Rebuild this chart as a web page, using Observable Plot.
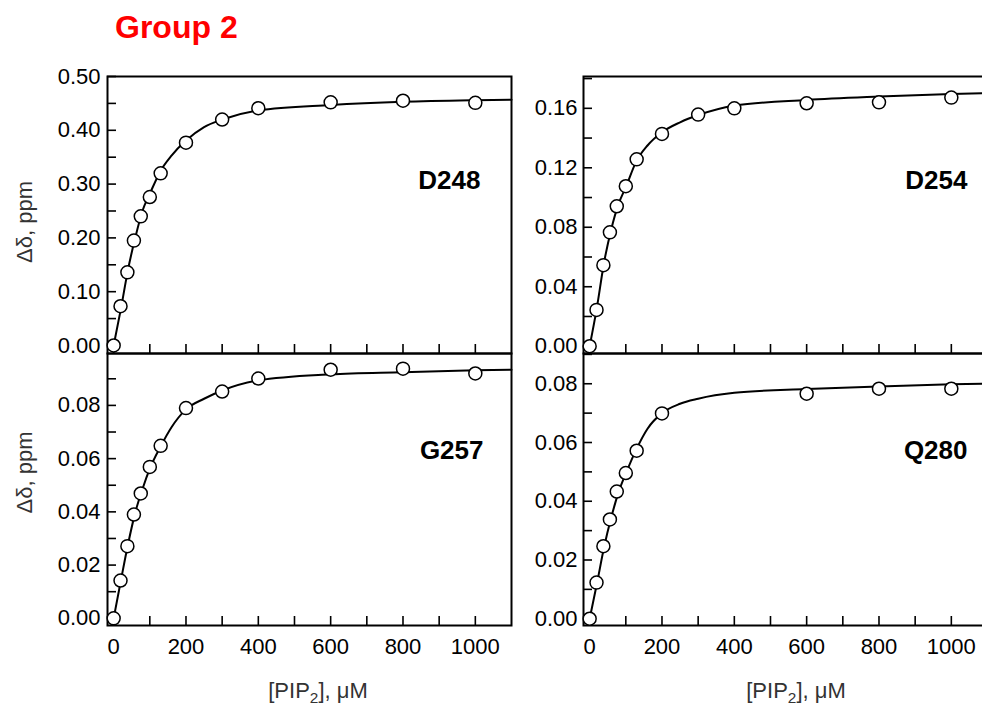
<!DOCTYPE html>
<html><head><meta charset="utf-8">
<script src="https://cdn.jsdelivr.net/npm/d3@7"></script>
<script src="https://cdn.jsdelivr.net/npm/@observablehq/plot@0.6"></script>
<style>
html,body{margin:0;padding:0;background:#fff;overflow:hidden;}
#wrap{position:relative;width:982px;height:705px;overflow:hidden;font-family:"Liberation Sans",Arial,sans-serif;background:#fff;}
.panel{position:absolute;}
#title{position:absolute;left:115px;top:11px;font-size:32px;line-height:32px;font-weight:bold;color:#ff0000;white-space:nowrap;}
.xlab{position:absolute;top:680px;font-size:22px;line-height:22px;color:#333;transform:translateX(-50%);white-space:nowrap;}
.xlab sub{font-size:70%;vertical-align:-0.3em;line-height:0;}
</style></head><body>
<div id="wrap">
<div id="title">Group 2</div>
<div class="panel" id="tl" style="left:0;top:66px"></div>
<div class="panel" id="tr" style="left:500px;top:66px"></div>
<div class="panel" id="bl" style="left:0;top:343px"></div>
<div class="panel" id="br" style="left:500px;top:343px"></div>
<div class="xlab" style="left:318px">[PIP<sub>2</sub>], μM</div>
<div class="xlab" style="left:796px">[PIP<sub>2</sub>], μM</div>
</div>
<script>
// ---- data ----
const yAxisTitle = "Δδ, ppm";
const xTicks = [0, 100, 200, 300, 400, 500, 600, 700, 800, 900, 1000];
const xTickLabels = [0, 200, 400, 600, 800, 1000];

const pipConc = [0, 19, 38, 56, 75, 100, 130, 200, 300, 400, 600, 800, 1000];
const pipConcQ280 = [0, 19, 38, 56, 75, 100, 130, 200, 600, 800, 1000];

const d248 = [0, 0.073, 0.136, 0.195, 0.240, 0.276, 0.320, 0.377, 0.420, 0.441, 0.452, 0.455, 0.451];
const d254 = [0, 0.0244, 0.0545, 0.0766, 0.0941, 0.1076, 0.1257, 0.1428, 0.1558, 0.1600, 0.1634, 0.1640, 0.1672];
const g257 = [0, 0.0142, 0.0271, 0.0390, 0.0469, 0.0569, 0.0648, 0.0790, 0.0852, 0.0901, 0.0934, 0.0938, 0.0920];
const q280 = [0, 0.0123, 0.0247, 0.0338, 0.0433, 0.0496, 0.0572, 0.0699, 0.0766, 0.0783, 0.0783];

// fitted curves
const fitConc = [0, 20, 40, 60, 80, 100, 130, 160, 200, 250, 300, 400, 600, 800, 1000, 1100];
const fitD248 = [0, 0.068, 0.142, 0.201, 0.251, 0.282, 0.325, 0.353, 0.381, 0.406, 0.420, 0.437, 0.447, 0.453, 0.456, 0.457];
const fitD254 = [0, 0.026, 0.0565, 0.0789, 0.0957, 0.107, 0.1248, 0.135, 0.1439, 0.1506, 0.1555, 0.1618, 0.1656, 0.1679, 0.1697, 0.1703];
const fitG257 = [0, 0.0142, 0.028, 0.0399, 0.0487, 0.0562, 0.0646, 0.0718, 0.0785, 0.0825, 0.0856, 0.0894, 0.0917, 0.0925, 0.0932, 0.0934];
const fitQ280 = [0, 0.0119, 0.0244, 0.0346, 0.0431, 0.0494, 0.0579, 0.0647, 0.0700, 0.0732, 0.0749, 0.0769, 0.0782, 0.0791, 0.0798, 0.0800];

const yTicksD248 = [0, 0.05, 0.10, 0.15, 0.20, 0.25, 0.30, 0.35, 0.40, 0.45, 0.50];
const yLabelsD248 = [0, 0.10, 0.20, 0.30, 0.40, 0.50];
const yTicksD254 = [0, 0.02, 0.04, 0.06, 0.08, 0.10, 0.12, 0.14, 0.16, 0.18];
const yLabelsD254 = [0, 0.04, 0.08, 0.12, 0.16];
const yTicksSmall = [0, 0.01, 0.02, 0.03, 0.04, 0.05, 0.06, 0.07, 0.08, 0.09];
const yLabelsSmall = [0, 0.02, 0.04, 0.06, 0.08];

const fmtY = d3.format(".2f");
const fmtX = d3.format("d");

function panel(o) {
  const pts = o.xs.map((x, i) => ({x, y: o.ys[i]}));
  const fit = fitConc.map((x, i) => ({x, y: o.fit[i]}));
  const marks = [
    Plot.frame({strokeWidth: 2}),
    Plot.axisY(o.yTicks, {tickSize: -9, fill: "none", strokeWidth: 1.6}),
    Plot.axisX(xTicks, {tickSize: -9, fill: "none", strokeWidth: 1.6}),
    Plot.axisY(o.yLabels, {tickSize: 0, tickPadding: o.yPad, tickFormat: fmtY, fontSize: 22, label: null}),
    Plot.line(fit, {x: "x", y: "y", curve: "monotone-x", strokeWidth: 2}),
    Plot.dot(pts, {x: "x", y: "y", r: 6.5, fill: "white", stroke: "black", strokeWidth: 1.5}),
    Plot.text([o.label], {text: d => d, frameAnchor: "top-right", dx: o.ldx, dy: o.ldy, textAnchor: "end", lineAnchor: "middle", fontWeight: "bold", fontSize: 26})
  ];
  if (o.xLabels) marks.push(Plot.axisX(xTickLabels, {tickSize: 0, tickPadding: 13, tickFormat: fmtX, fontSize: 22, label: null}));
  if (o.ylab) marks.push(Plot.text([yAxisTitle], {text: d => d, frameAnchor: "left", dx: -83, dy: o.ylabDy, rotate: -90, textAnchor: "middle", lineAnchor: "middle", fontSize: 22, fill: "#333"}));
  return Plot.plot({
    width: o.width, height: o.height,
    marginLeft: o.marginLeft, marginRight: 10, marginTop: 10, marginBottom: o.marginBottom,
    x: {domain: [-17, 1100]},
    y: {domain: o.yDomain},
    style: "font-family: 'Liberation Sans', Arial, sans-serif; font-size: 22px; color: black; background: transparent; overflow: visible; max-width: none;",
    marks
  });
}

document.getElementById("tl").append(panel({
  xs: pipConc, ys: d248, fit: fitD248, label: "D248",
  yDomain: [-0.0149, 0.5], yTicks: yTicksD248, yLabels: yLabelsD248, yPad: 7,
  width: 521, height: 297, marginLeft: 107, marginBottom: 10,
  ldx: -31, ldy: 104, ylab: true, ylabDy: 7
}));
document.getElementById("tr").append(panel({
  xs: pipConc, ys: d254, fit: fitD254, label: "D254",
  yDomain: [-0.0049, 0.1814], yTicks: yTicksD254, yLabels: yLabelsD254, yPad: 6,
  width: 497, height: 297, marginLeft: 83, marginBottom: 10,
  ldx: -20, ldy: 104
}));
document.getElementById("bl").append(panel({
  xs: pipConc, ys: g257, fit: fitG257, label: "G257",
  yDomain: [-0.0027, 0.0995], yTicks: yTicksSmall, yLabels: yLabelsSmall, yPad: 7,
  width: 521, height: 327, marginLeft: 107, marginBottom: 45,
  ldx: -28, ldy: 97, xLabels: true, ylab: true, ylabDy: -17
}));
document.getElementById("br").append(panel({
  xs: pipConcQ280, ys: q280, fit: fitQ280, label: "Q280",
  yDomain: [-0.0023, 0.0903], yTicks: yTicksSmall, yLabels: yLabelsSmall, yPad: 6,
  width: 497, height: 327, marginLeft: 83, marginBottom: 45,
  ldx: -20, ldy: 97, xLabels: true
}));
</script>
</body></html>
